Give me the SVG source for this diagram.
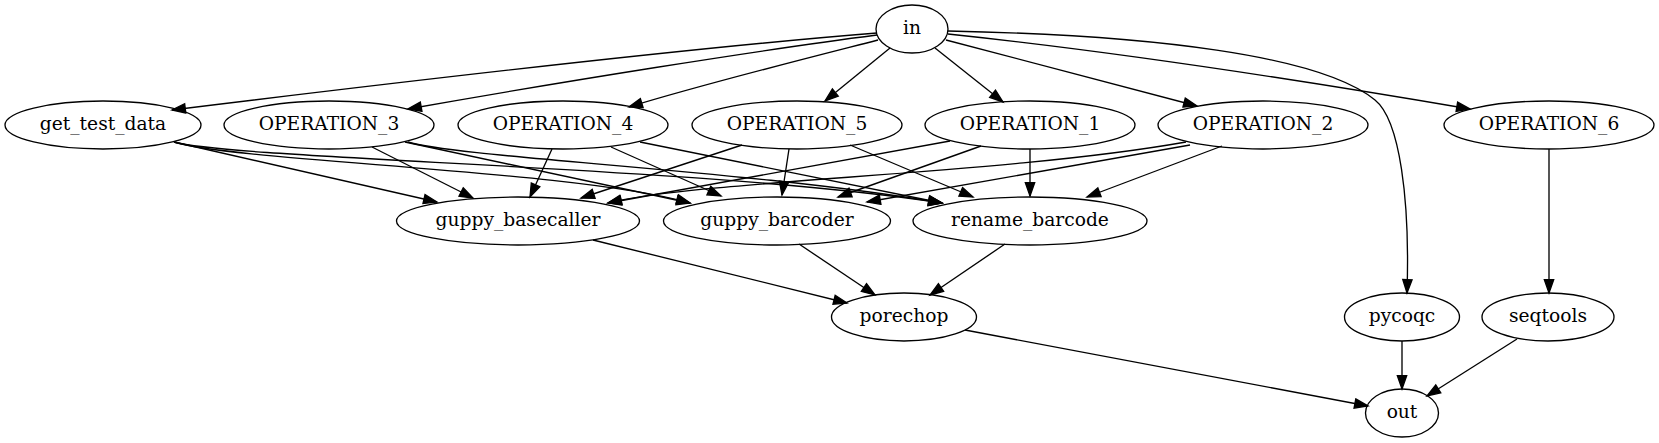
<svg xmlns="http://www.w3.org/2000/svg" width="1659" height="443" viewBox="0 0 1659 443">
<style>
.n ellipse{fill:none;stroke:#000;stroke-width:1.33}
.n text{font-family:"DejaVu Serif",serif;font-size:18.67px;text-anchor:middle;fill:#000}
#edges path{fill:none;stroke:#000;stroke-width:1.33;marker-end:url(#ah)}
</style>
<defs>
<marker id="ah" viewBox="0 0 14 10" refX="13.33" refY="5" markerWidth="14" markerHeight="10" markerUnits="userSpaceOnUse" orient="auto" overflow="visible">
<polygon points="0,0.33 13.33,5 0,9.67" fill="#000" stroke="#000" stroke-width="1.33"/>
</marker>
</defs>
<rect width="1659" height="443" fill="#fff"/>
<g id="edges">
<path d="M877,33 C700,47 400,82 172,110"/>
<path d="M877,35 C760,50 560,82 408,109"/>
<path d="M878,40 C800,60 700,85 629,107"/>
<path d="M890,48 L825,101"/>
<path d="M935,48 L1003,102"/>
<path d="M946,40 L1197,106"/>
<path d="M948,34 C1100,50 1300,80 1470,109"/>
<path d="M948,31 C1150,35 1320,55 1375,100 C1400,120 1410,200 1407,293"/>
<path d="M174,142 L437,202"/>
<path d="M174,142 C240,162 575,170 690,203"/>
<path d="M174,142 C240,160 700,166 942,203"/>
<path d="M372,147 L473,198"/>
<path d="M405,142 L690,203"/>
<path d="M408,142 C460,158 750,170 942,203"/>
<path d="M552,149 L530,197"/>
<path d="M611,147 L721,196"/>
<path d="M640,142 L942,203"/>
<path d="M742,145 L581,198"/>
<path d="M789,149 L782,195"/>
<path d="M850,145 L973,197"/>
<path d="M950,141 L608,203"/>
<path d="M981,146 L838,197"/>
<path d="M1030,149 L1030,196"/>
<path d="M1186,142 C1000,175 700,180 608,203"/>
<path d="M1190,145 L867,202"/>
<path d="M1222,146 L1087,197"/>
<path d="M1549,149 L1549,293"/>
<path d="M593,240 L847,303"/>
<path d="M799,244 L875,295"/>
<path d="M1005,244 L930,295"/>
<path d="M965,330 L1368,406"/>
<path d="M1402,341 L1402,389"/>
<path d="M1517,339 L1427,396"/>
</g>
<g id="in" class="n"><ellipse cx="912" cy="29" rx="36" ry="24"/><text x="912" y="34.3">in</text></g>
<g id="get_test_data" class="n"><ellipse cx="103" cy="125" rx="98" ry="24"/><text x="103" y="130.3">get_test_data</text></g>
<g id="OPERATION_3" class="n"><ellipse cx="329" cy="125" rx="105" ry="24"/><text x="329" y="130.3">OPERATION_3</text></g>
<g id="OPERATION_4" class="n"><ellipse cx="563" cy="125" rx="105" ry="24"/><text x="563" y="130.3">OPERATION_4</text></g>
<g id="OPERATION_5" class="n"><ellipse cx="797" cy="125" rx="105" ry="24"/><text x="797" y="130.3">OPERATION_5</text></g>
<g id="OPERATION_1" class="n"><ellipse cx="1030" cy="125" rx="105" ry="24"/><text x="1030" y="130.3">OPERATION_1</text></g>
<g id="OPERATION_2" class="n"><ellipse cx="1263" cy="125" rx="105" ry="24"/><text x="1263" y="130.3">OPERATION_2</text></g>
<g id="OPERATION_6" class="n"><ellipse cx="1549" cy="125" rx="105" ry="24"/><text x="1549" y="130.3">OPERATION_6</text></g>
<g id="guppy_basecaller" class="n"><ellipse cx="518" cy="221" rx="121.5" ry="24"/><text x="518" y="226.3">guppy_basecaller</text></g>
<g id="guppy_barcoder" class="n"><ellipse cx="777" cy="221" rx="113.5" ry="24"/><text x="777" y="226.3">guppy_barcoder</text></g>
<g id="rename_barcode" class="n"><ellipse cx="1030" cy="221" rx="117" ry="24"/><text x="1030" y="226.3">rename_barcode</text></g>
<g id="porechop" class="n"><ellipse cx="904" cy="317" rx="72.5" ry="24"/><text x="904" y="322.3">porechop</text></g>
<g id="pycoqc" class="n"><ellipse cx="1402" cy="317" rx="57.5" ry="24"/><text x="1402" y="322.3">pycoqc</text></g>
<g id="seqtools" class="n"><ellipse cx="1548" cy="317" rx="66" ry="24"/><text x="1548" y="322.3">seqtools</text></g>
<g id="out" class="n"><ellipse cx="1402" cy="413" rx="36.5" ry="24"/><text x="1402" y="418.3">out</text></g>
</svg>
